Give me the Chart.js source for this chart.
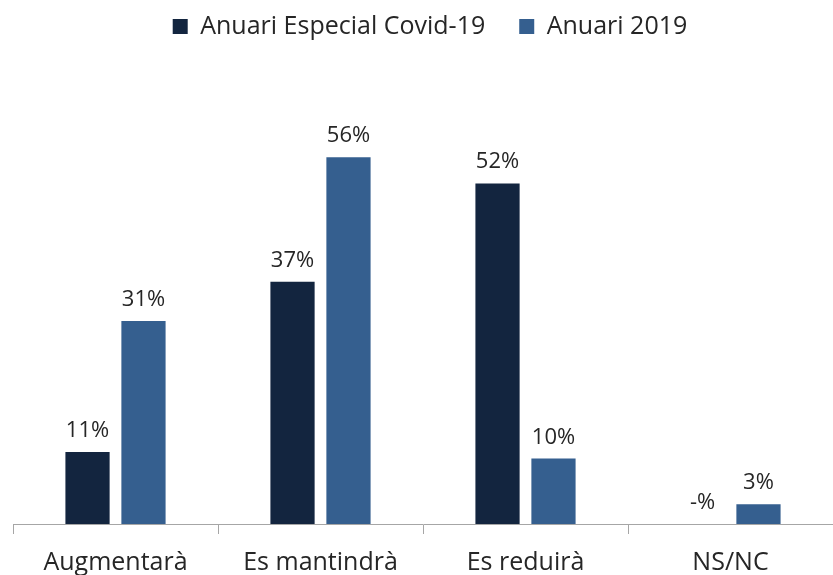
<!DOCTYPE html>
<html>
<head>
<meta charset="utf-8">
<script src="https://cdn.jsdelivr.net/npm/chart.js@4.4.1/dist/chart.umd.min.js"></script>
<style>
  html, body { margin: 0; padding: 0; background: #fff; }
  #wrap { width: 833px; height: 575px; }
</style>
</head>
<body>
<div id="wrap"><canvas id="chart" width="833" height="575"></canvas></div>
<script>
// dades
const categories = ['Augmentarà', 'Es mantindrà', 'Es reduirà', 'NS/NC'];
const covidValues = [11, 37, 52, 0];
const anuari2019Values = [31, 56, 10, 3];
const seriesNames = ['Anuari Especial Covid-19', 'Anuari 2019'];

const textColor = '#262626';
const axisColor = '#a6a6a6';

// etiquetes de valor sobre les barres
const valueLabels = {
  id: 'valueLabels',
  afterDatasetsDraw(chart) {
    const ctx = chart.ctx;
    ctx.save();
    ctx.font = '22px "Open Sans"';
    ctx.fillStyle = textColor;
    ctx.textAlign = 'center';
    ctx.textBaseline = 'alphabetic';
    chart.data.datasets.forEach((ds, i) => {
      chart.getDatasetMeta(i).data.forEach((bar, j) => {
        const v = ds.data[j];
        const txt = v === 0 ? '-%' : v + '%';
        ctx.fillText(txt, bar.x, bar.y - 15);
      });
    });
    ctx.restore();
  }
};

// alçada fixa de la llegenda i petit desplaçament a la dreta
const legendTweak = {
  id: 'legendTweak',
  beforeInit(chart) {
    const origFit = chart.legend.fit;
    chart.legend.fit = function () {
      origFit.bind(this)();
      this.height = 151;
    };
  },
  afterLayout(chart) {
    chart.legend.left += 7;
    chart.legend.right += 7;
  }
};

new Chart(document.getElementById('chart').getContext('2d'), {
  type: 'bar',
  data: {
    labels: categories,
    datasets: [
      {
        label: seriesNames[0],
        data: covidValues,
        backgroundColor: '#13253f',
        categoryPercentage: 0.546,
        barPercentage: 0.79
      },
      {
        label: seriesNames[1],
        data: anuari2019Values,
        backgroundColor: '#355f8f',
        categoryPercentage: 0.546,
        barPercentage: 0.79
      }
    ]
  },
  options: {
    responsive: false,
    animation: false,
    layout: { padding: { left: 13, right: 0, top: -20, bottom: 0 } },
    scales: {
      x: {
        afterFit(scale) {
          scale.height = 51;
        },
        grid: {
          display: true,
          drawOnChartArea: false,
          tickLength: 10,
          color: axisColor
        },
        border: { color: axisColor },
        ticks: {
          color: textColor,
          padding: 14,
          font: { family: 'Open Sans', size: 25 }
        }
      },
      y: {
        display: false,
        min: 0,
        max: 60
      }
    },
    plugins: {
      legend: {
        position: 'top',
        labels: {
          color: textColor,
          boxWidth: 15,
          boxHeight: 15,
          padding: 34,
          font: { family: 'Open Sans', size: 25 }
        }
      },
      tooltip: { enabled: false }
    }
  },
  plugins: [valueLabels, legendTweak]
});
</script>
</body>
</html>
